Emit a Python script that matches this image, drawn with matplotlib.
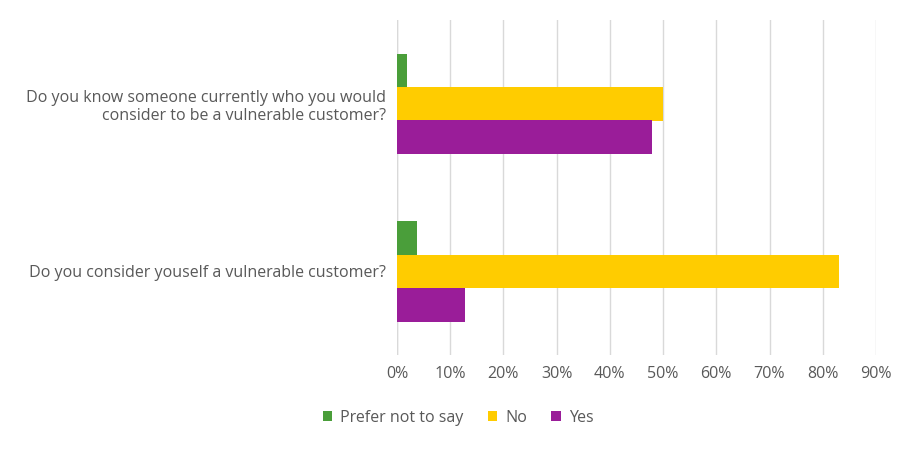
import matplotlib
matplotlib.use("Agg")
import matplotlib.pyplot as plt
import numpy as np

categories = ["Do you consider youself a vulnerable customer?",
              "Do you know someone currently who you would\nconsider to be a vulnerable customer?"]
series = ["Prefer not to say", "No", "Yes"]
prefer = [0.038, 0.018]
no = [0.83, 0.50]
yes = [0.128, 0.48]
colors = ["#4A9E3A", "#FFCC00", "#9A1D99"]
xticks = [0, 0.1, 0.2, 0.3, 0.4, 0.5, 0.6, 0.7, 0.8, 0.9]

plt.rcParams["font.family"] = "Open Sans"
fig = plt.figure(figsize=(9.16, 4.49), dpi=100)
ax = fig.add_axes([397/916, 1-355/449, (876-397)/916, 335/449])
y = np.arange(len(categories))
h = 0.2
for i, (vals, name) in enumerate(zip([prefer, no, yes], series)):
    ax.barh(y + (1 - i) * h, vals, height=h, color=colors[i], label=name, zorder=3)
ax.set_xlim(0, 0.9)
ax.set_ylim(-0.5, 1.5)
ax.set_xticks(xticks)
ax.set_xticklabels([f"{int(round(t*100))}%" for t in xticks], color="#595959", fontsize=11.5)
ax.set_yticks(y)
ax.set_yticklabels(categories, color="#595959", fontsize=11.5, ha="right")
ax.tick_params(length=0, pad=8)
ax.grid(axis="x", color="#D9D9D9", linewidth=1, zorder=0)
for s in ax.spines.values():
    s.set_visible(False)
ax.axvline(0, color="#D9D9D9", linewidth=1, zorder=1)
leg = fig.legend(loc="center", bbox_to_anchor=(0.5, 1-418/449), ncol=3, frameon=False,
                 fontsize=11.5, handlelength=0.6, handleheight=0.6, columnspacing=1.5, handletextpad=0.5)
for t in leg.get_texts():
    t.set_color("#595959")
fig.savefig("out.png", dpi=100)
